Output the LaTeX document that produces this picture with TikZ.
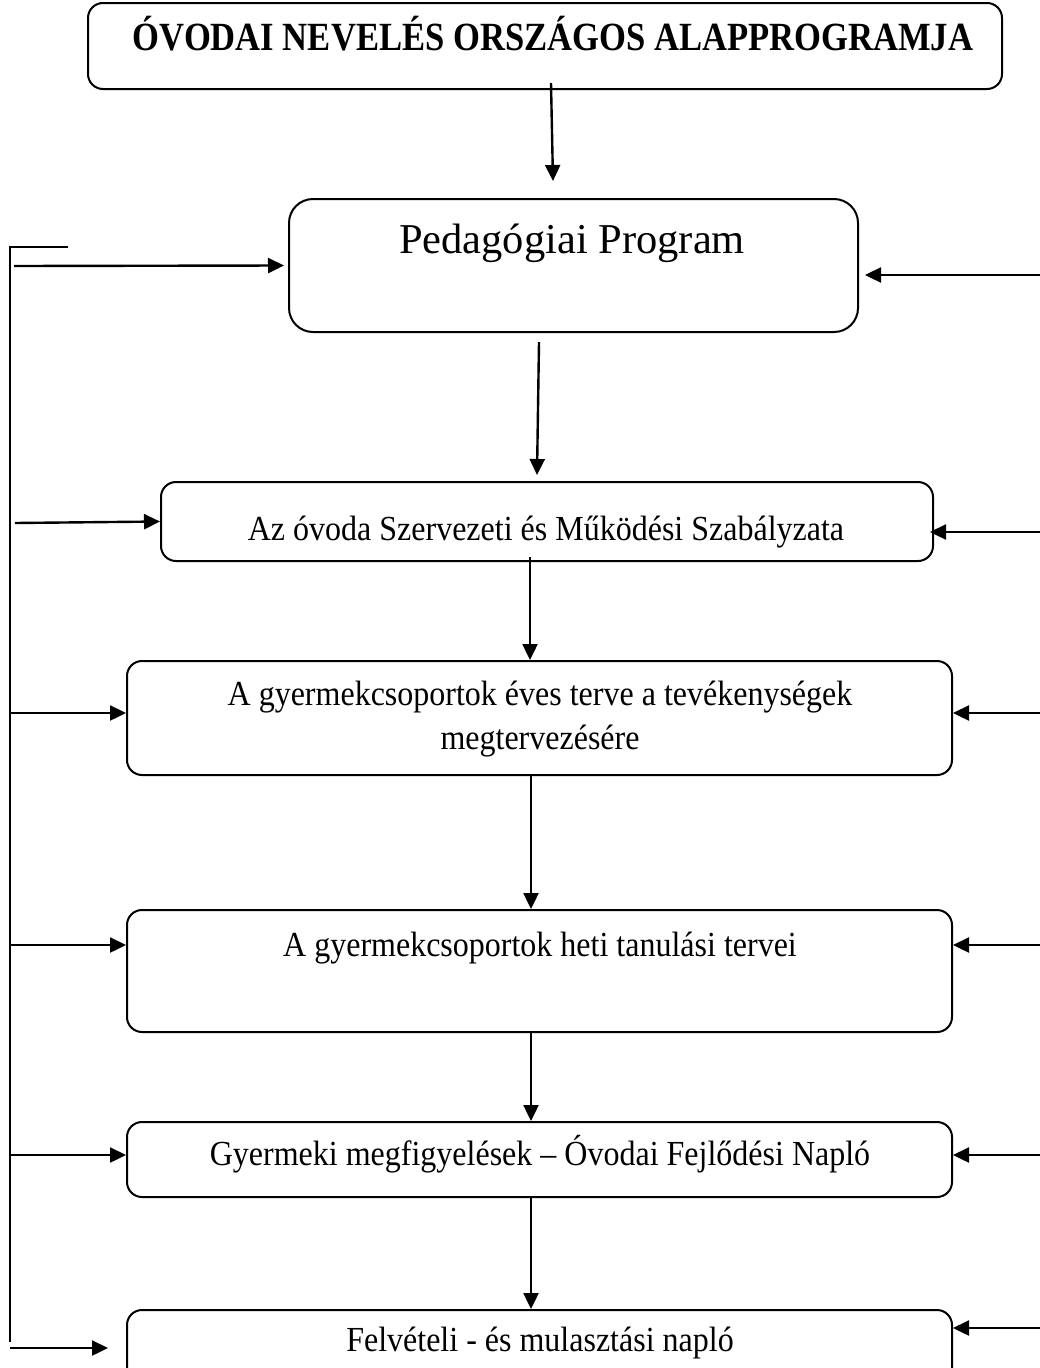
\documentclass[tikz,border=0pt]{standalone}
\usepackage{fontspec}
\setmainfont{Liberation Serif}
\usetikzlibrary{arrows.meta,calc}
\newcommand{\tallt}[1]{\scalebox{1}[1.1]{\begin{tabular}{@{}c@{}}#1\end{tabular}}}
\begin{document}
\begin{tikzpicture}[x=1pt,y=-1pt,line width=2pt,
  box/.style={draw,rounded corners=15pt,anchor=north west,inner sep=0pt},
  arr/.style={line width=2.4pt,-{Triangle[length=16pt,width=15pt]}},
  lbl/.style={font=\fontsize{32}{40}\selectfont,inner sep=0pt},
  ttl/.style={font=\bfseries\fontsize{40}{44}\selectfont,inner sep=0pt},
  big/.style={font=\fontsize{42.5}{48}\selectfont,inner sep=0pt}]
\useasboundingbox (0,0) rectangle (1040,1368);
\clip (0,0) rectangle (1040,1368);

% boxes
\node[box,minimum width=914pt,minimum height=86pt] (top) at (87,2) {};
\node[box,minimum width=569pt,minimum height=133pt,rounded corners=24pt] (ped) at (288,198) {};
\node[box,minimum width=772pt,minimum height=79pt] (szm) at (160,481) {};
\node[box,minimum width=825pt,minimum height=114pt] (eves) at (126,660) {};
\node[box,minimum width=825pt,minimum height=122pt] (heti) at (126,909) {};
\node[box,minimum width=825pt,minimum height=75pt] (megf) at (126,1121) {};
\node[box,minimum width=825pt,minimum height=120pt] (felv) at (126,1309) {};

% texts
\node[ttl] (ttop) at (553,34) {\scalebox{0.865}[1]{ÓVODAI NEVELÉS ORSZÁGOS ALAPPROGRAMJA}};
\node[big] (tped) at (572,243) {Pedagógiai Program};
\node[lbl] (tszm) at (546,532) {\tallt{Az óvoda Szervezeti és Működési Szabályzata}};
\node[lbl] (teves) at (540,719) {\tallt{A gyermekcsoportok éves terve a tevékenységek\\megtervezésére}};
\node[lbl] (theti) at (540,948) {\tallt{A gyermekcsoportok heti tanulási tervei}};
\node[lbl] (tmegf) at (540,1157) {\tallt{Gyermeki megfigyelések -- Óvodai Fejlődési Napló}};
\node[lbl] (tfelv) at (540,1343) {\tallt{Felvételi - és mulasztási napló}};

% vertical arrows
\coordinate (v1s) at (551,83);  \coordinate (v1e) at (553,181);
\coordinate (v2s) at (539,342); \coordinate (v2e) at (537,475);
\draw[arr] (v1s) -- (v1e);
\draw[arr] (v2s) -- (v2e);
\draw[arr] ($(szm.south)+(-17,-5)$) -- ($(eves.north)+(-9.5,0)$);
\draw[arr] ($(eves.south)+(-8.5,0)$) -- ($(heti.north)+(-8.5,0)$);
\draw[arr] ($(heti.south)+(-8.5,0)$) -- ($(megf.north)+(-8.5,0)$);
\draw[arr] ($(megf.south)+(-8.5,0)$) -- ($(felv.north)+(-8.5,0)$);

% left bracket
\coordinate (bt) at (10,247);
\coordinate (btr) at (68,247);
\coordinate (bb) at (10,1342);
\draw[line width=1.6pt] (btr) -- (bt) -- (bb);
\coordinate (l1) at (14,266);
\draw[arr] (l1) -- ($(ped.west)+(-4,0)$);
\coordinate (l2) at (15,523);
\draw[arr] (l2) -- (szm.west);
\draw[arr] (10,713) coordinate (l3) -- (l3 -| eves.west);
\draw[arr] (10,945) coordinate (l4) -- (l4 -| heti.west);
\draw[arr] (10,1155) coordinate (l5) -- (l5 -| megf.west);
\coordinate (l6s) at (10,1348); \coordinate (l6e) at (108,1348);
\draw[arr] (l6s) -- (l6e);

% right arrows
\coordinate (r1) at (1040,275);
\draw[arr] (r1) -- ($(r1 -| ped.east)+(6,0)$);
\coordinate (r2) at (1040,532);
\draw[arr] (r2) -- ($(r2 -| szm.east)+(-4,0)$);
\draw[arr] (1040,713) coordinate (r3) -- (r3 -| eves.east);
\draw[arr] (1040,945) coordinate (r4) -- (r4 -| heti.east);
\draw[arr] (1040,1155) coordinate (r5) -- (r5 -| megf.east);
\draw[arr] (1040,1328) coordinate (r6) -- (r6 -| felv.east);
\end{tikzpicture}
\end{document}
